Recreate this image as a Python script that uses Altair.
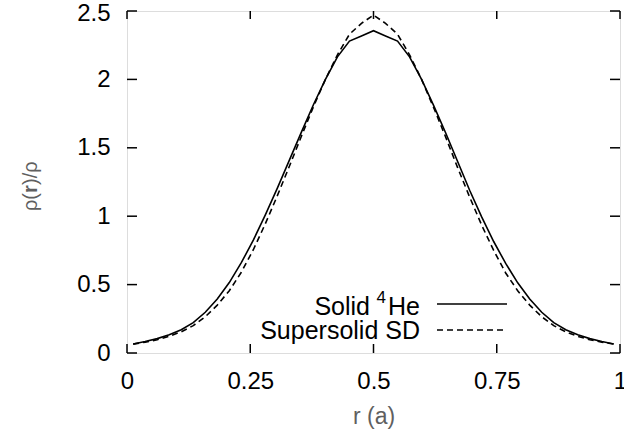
import altair as alt
import pandas as pd

# ---- data ----
r_values = [0.0125, 0.036875, 0.06125, 0.085625, 0.11, 0.134375, 0.15875, 0.183125,
            0.2075, 0.231875, 0.25625, 0.280625, 0.305, 0.329375, 0.35375, 0.378125,
            0.4025, 0.426875, 0.45125, 0.475625, 0.5,
            0.524375, 0.54875, 0.573125, 0.5975, 0.621875, 0.64625, 0.670625,
            0.695, 0.719375, 0.74375, 0.768125, 0.7925, 0.816875, 0.84125,
            0.865625, 0.89, 0.914375, 0.93875, 0.963125, 0.9875]
solid_he4 = [0.066, 0.084, 0.105, 0.133, 0.17, 0.222, 0.298, 0.395,
             0.515, 0.66, 0.825, 1.01, 1.205, 1.41, 1.615, 1.815,
             2.00, 2.165, 2.28, 2.318, 2.356,
             2.318, 2.28, 2.165, 2.00, 1.81, 1.61, 1.40,
             1.19, 0.995, 0.815, 0.655, 0.513, 0.395, 0.298,
             0.222, 0.17, 0.133, 0.105, 0.084, 0.066]
supersolid_sd = [0.065, 0.079, 0.097, 0.122, 0.155, 0.20, 0.265, 0.35,
                 0.455, 0.59, 0.755, 0.945, 1.15, 1.365, 1.585, 1.80,
                 2.00, 2.18, 2.33, 2.41, 2.47,
                 2.41, 2.33, 2.18, 2.00, 1.795, 1.58, 1.355,
                 1.14, 0.935, 0.75, 0.585, 0.455, 0.35, 0.265,
                 0.20, 0.155, 0.122, 0.097, 0.079, 0.065]
x_ticks = [0, 0.25, 0.5, 0.75, 1]
y_ticks = [0, 0.5, 1, 1.5, 2, 2.5]
legend1_parts = ["Solid", "4", "He"]
legend2_label = "Supersolid SD"
y_title_parts = ["\u03c1(", "r", ")/\u03c1"]
x_title = "r (a)"

FONT = "Liberation Sans"
TITLE_GRAY = "#5f5f5f"
W, H = 493, 342

x_scale = alt.Scale(domain=[0, 1], nice=False, zero=False)
y_scale = alt.Scale(domain=[0, 2.5], nice=False, zero=False)

df_solid = pd.DataFrame({"r": r_values, "v": solid_he4})
df_dash = pd.DataFrame({"r": r_values, "v": supersolid_sd})

x_axis = alt.Axis(values=x_ticks, labelExpr="datum.value + ''", ticks=False, tickSize=0,
                  domain=False, grid=False, labelPadding=16, labelFontSize=24,
                  labelFont=FONT, labelColor="black", labelFlush=False, labelOverlap=False,
                  title=x_title, titleFont=FONT, titleFontSize=23,
                  titleFontWeight="normal", titleColor=TITLE_GRAY,
                  titleY=70, titleBaseline="alphabetic")
y_axis = alt.Axis(values=y_ticks, labelExpr="datum.value + ''", ticks=False, tickSize=0,
                  domain=False, grid=False, labelPadding=17, labelFontSize=24,
                  labelFont=FONT, labelColor="black", labelOverlap=False, labelFlush=False,
                  labelOffset={"condition": {"test": "datum.value == 2.5", "value": 2}, "value": 0},
                  title=None)

solid = alt.Chart(df_solid).mark_line(color="black", strokeWidth=1.6).encode(
    x=alt.X("r:Q", scale=x_scale, axis=x_axis),
    y=alt.Y("v:Q", scale=y_scale, axis=y_axis),
)
dashed = alt.Chart(df_dash).mark_line(color="black", strokeWidth=1.6, strokeDash=[6, 4]).encode(
    x=alt.X("r:Q", scale=x_scale, axis=x_axis),
    y=alt.Y("v:Q", scale=y_scale, axis=y_axis),
)

df_xt = pd.DataFrame({"r": x_ticks})
df_yt = pd.DataFrame({"v": y_ticks})
tick_style = dict(color="black", strokeWidth=1.5)
xt_bottom = alt.Chart(df_xt).mark_rule(**tick_style).encode(
    x=alt.X("r:Q", scale=x_scale, axis=x_axis), y=alt.value(H), y2=alt.value(H - 9))
xt_top = alt.Chart(df_xt).mark_rule(**tick_style).encode(
    x=alt.X("r:Q", scale=x_scale, axis=x_axis), y=alt.value(0), y2=alt.value(8))
yt_left = alt.Chart(df_yt).mark_rule(**tick_style).encode(
    y=alt.Y("v:Q", scale=y_scale, axis=y_axis), x=alt.value(0), x2=alt.value(10))
yt_right = alt.Chart(df_yt).mark_rule(**tick_style).encode(
    y=alt.Y("v:Q", scale=y_scale, axis=y_axis), x=alt.value(W), x2=alt.value(W - 10))


def text_layer(s, x, y, size, color="black", angle=0, align="right", weight="normal"):
    return alt.Chart(pd.DataFrame({"t": [s]})).mark_text(
        font=FONT, fontSize=size, color=color, angle=angle, align=align,
        fontWeight=weight, baseline="alphabetic").encode(
        text="t:N", x=alt.value(x), y=alt.value(y))


# y title with bold r
anchor_y = 182
part1 = text_layer(y_title_parts[0], -90, anchor_y, 20, TITLE_GRAY, 270, "right")
part2 = text_layer(y_title_parts[1], -90, anchor_y - 4, 20, TITLE_GRAY, 270, "center", "bold")
part3 = text_layer(y_title_parts[2], -90, anchor_y - 8, 20, TITLE_GRAY, 270, "left")

# legend
leg1_a = text_layer(legend1_parts[0], 243, 304, 25)
leg1_b = text_layer(legend1_parts[1], 259, 292, 17)
leg1_c = text_layer(legend1_parts[2], 293, 304, 25)
leg2_text = text_layer(legend2_label, 293, 328, 25)
one = pd.DataFrame({"a": [0]})
leg1_line = alt.Chart(one).mark_rule(color="black", strokeWidth=1.6).encode(
    x=alt.value(310), x2=alt.value(380), y=alt.value(293))
leg2_line = alt.Chart(one).mark_rule(color="black", strokeWidth=1.6, strokeDash=[6, 4]).encode(
    x=alt.value(310), x2=alt.value(380), y=alt.value(319))

chart = alt.layer(
    solid, dashed, xt_bottom, xt_top, yt_left, yt_right,
    part1, part2, part3, leg1_a, leg1_b, leg1_c, leg2_text, leg1_line, leg2_line,
).properties(
    width=W, height=H,
    autosize=alt.AutoSizeParams(type="none"),
    padding={"left": 127, "top": 11, "right": 4, "bottom": 80},
).configure_view(stroke="black", strokeWidth=2).configure(background="white")

chart.save("out.html", embed_options={"renderer": "svg", "actions": False})
